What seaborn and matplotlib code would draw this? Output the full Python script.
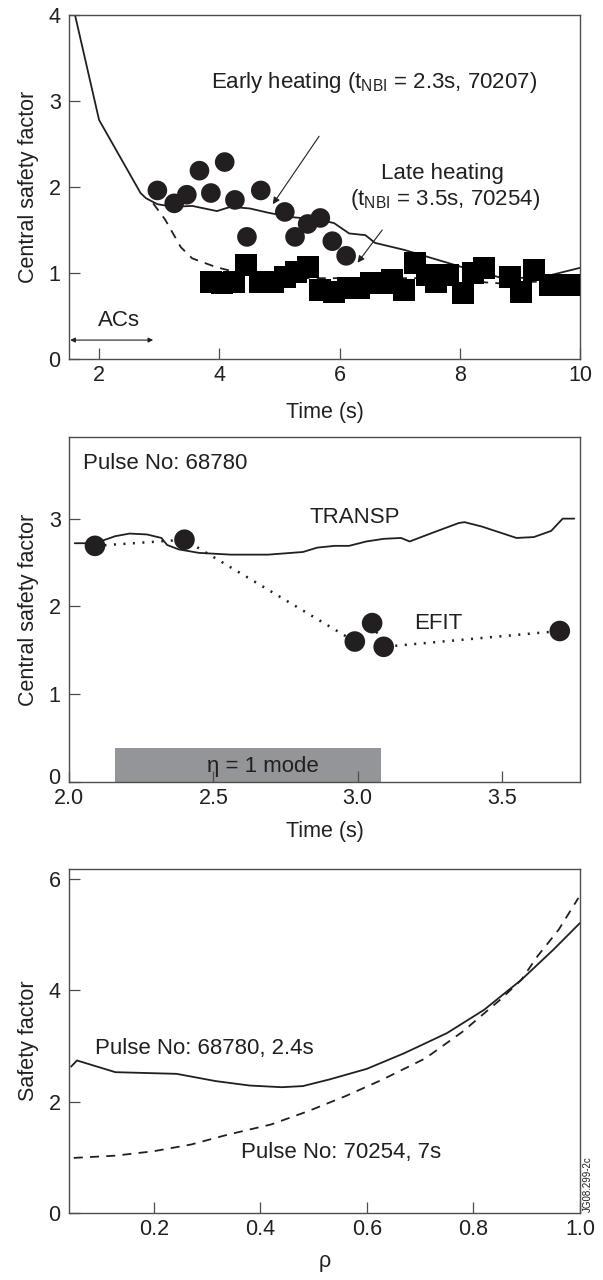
import numpy as np
import pandas as pd
import matplotlib
matplotlib.use("Agg")
import matplotlib.pyplot as plt
import matplotlib.transforms as mtransforms
import seaborn as sns

# ---------------- data ----------------
# Panel 1: early heating (70207) model curve
early_t = [1.6, 2.0, 2.69, 2.78, 2.97, 3.23, 3.55, 3.96, 4.19, 4.51, 4.82, 5.2, 5.66, 5.91,
           6.16, 6.43, 6.59, 7.07, 8.03, 8.66, 9.31, 10.0]
early_q = [4.0, 2.78, 1.93, 1.87, 1.80, 1.77, 1.78, 1.72, 1.77, 1.75, 1.70, 1.65, 1.62, 1.58,
           1.46, 1.44, 1.35, 1.27, 1.07, 0.95, 0.94, 1.06]
# Panel 1: late heating (70254) model curve
late_t = [2.9, 3.1, 3.36, 3.55, 3.94, 4.44, 5.47, 6.43, 7.39, 8.66, 9.31, 9.7, 10.0]
late_q = [1.81, 1.62, 1.30, 1.17, 1.07, 0.98, 0.94, 0.94, 0.94, 0.88, 0.90, 0.86, 0.86]
# Panel 1: measured points
early_pts_t = [2.97, 3.25, 3.46, 3.67, 3.86, 4.09, 4.26, 4.46, 4.69, 5.09, 5.26, 5.47, 5.68, 5.88, 6.11]
early_pts_q = [1.96, 1.81, 1.91, 2.19, 1.93, 2.29, 1.85, 1.42, 1.96, 1.71, 1.42, 1.57, 1.64, 1.37, 1.20]
late_pts_t = [3.86, 4.05, 4.24, 4.44, 4.67, 4.90, 5.09, 5.28, 5.47, 5.68, 5.91, 6.14, 6.33, 6.52,
              6.74, 6.87, 7.07, 7.26, 7.45, 7.60, 7.80, 8.06, 8.22, 8.41, 8.83, 9.02, 9.24, 9.50, 9.81]
late_pts_q = [0.90, 0.88, 0.90, 1.09, 0.90, 0.90, 0.95, 1.01, 1.07, 0.80, 0.78, 0.82, 0.82, 0.88,
              0.88, 0.92, 0.80, 1.12, 0.98, 0.90, 0.98, 0.77, 1.00, 1.06, 0.95, 0.78, 1.03, 0.86, 0.86]

# Panel 2: Pulse 68780
transp_t = [2.02, 2.09, 2.16, 2.21, 2.27, 2.32, 2.34, 2.38, 2.45, 2.56, 2.69, 2.81, 2.86, 2.92,
            2.97, 3.03, 3.09, 3.15, 3.18, 3.26, 3.35, 3.37, 3.43, 3.55, 3.61, 3.67, 3.71, 3.75]
transp_q = [2.72, 2.72, 2.80, 2.83, 2.82, 2.78, 2.70, 2.65, 2.61, 2.59, 2.59, 2.62, 2.67, 2.69,
            2.69, 2.74, 2.77, 2.78, 2.74, 2.84, 2.95, 2.96, 2.91, 2.78, 2.79, 2.86, 3.00, 3.00]
efit_t = [2.09, 2.40, 2.99, 3.05, 3.09, 3.70]
efit_q = [2.69, 2.76, 1.60, 1.81, 1.54, 1.72]
mode_span = [2.16, 3.08]
mode_height = 0.39

# Panel 3: q profiles
rho_a = [0.045, 0.056, 0.128, 0.243, 0.316, 0.38, 0.44, 0.48, 0.53, 0.60, 0.67, 0.75, 0.82,
         0.89, 0.95, 1.0]
q_a = [2.63, 2.74, 2.53, 2.50, 2.37, 2.29, 2.26, 2.28, 2.40, 2.59, 2.87, 3.23, 3.65, 4.19, 4.73, 5.21]
rho_b = [0.05, 0.128, 0.2, 0.27, 0.34, 0.42, 0.49, 0.56, 0.63, 0.71, 0.78, 0.85, 0.89, 0.92, 0.96, 0.997]
q_b = [0.99, 1.03, 1.11, 1.23, 1.41, 1.59, 1.83, 2.10, 2.40, 2.78, 3.26, 3.83, 4.19, 4.61, 5.09, 5.66]

# ---------------- style ----------------
sns.set_theme(style="ticks")
plt.rcParams["font.family"] = ["Liberation Sans", "DejaVu Sans"]
plt.rcParams["mathtext.fontset"] = "custom"
plt.rcParams["mathtext.rm"] = "Liberation Sans"
plt.rcParams["mathtext.it"] = "Liberation Sans"
plt.rcParams["mathtext.bf"] = "Liberation Sans"

INK = "#231f20"
FS = 15.5
AFS = 16

fig = plt.figure(figsize=(6.03, 12.8), dpi=100)
L, W = 69 / 603, (580 - 69) / 603


def box(top, bottom):
    return [L, 1 - bottom / 1280, W, (bottom - top) / 1280]


def style_ax(ax):
    for s in ax.spines.values():
        s.set_visible(True)
        s.set_color("#4d4d4d")
        s.set_linewidth(1.0)
    ax.tick_params(direction="in", length=8, width=0.9, color="#4d4d4d",
                   labelsize=FS, top=False, right=False)
    ax.tick_params(axis="x", pad=4)
    ax.tick_params(axis="y", pad=6)
    for lab in ax.get_xticklabels() + ax.get_yticklabels():
        lab.set_color(INK)


# ---------------- panel 1 ----------------
ax1 = fig.add_axes(box(15, 359))
sns.lineplot(x=early_t, y=early_q, ax=ax1, color=INK, lw=1.3, estimator=None, sort=False)
sns.lineplot(x=late_t, y=late_q, ax=ax1, color=INK, lw=1.3, estimator=None, sort=False,
             linestyle=(0, (5, 4)))
sns.scatterplot(x=early_pts_t, y=early_pts_q, ax=ax1, color=INK, s=200, marker="o",
                edgecolor="none", zorder=3)
sns.scatterplot(x=late_pts_t, y=late_pts_q, ax=ax1, color="black", s=250, marker="s",
                edgecolor="none", zorder=3)
ax1.set_xlim(1.5, 10)
ax1.set_ylim(0, 4)
ax1.set_xticks([2, 4, 6, 8, 10])
ax1.set_yticks([0, 1, 2, 3, 4])
ax1.set_xlabel("Time (s)", fontsize=FS, color=INK, labelpad=12)
ax1.set_ylabel("Central safety factor", fontsize=FS, color=INK, labelpad=7)
arrow = dict(arrowstyle="-|>", lw=0.8, color=INK, mutation_scale=10, shrinkA=0, shrinkB=0)
ax1.text(6.58, 3.21, r"Early heating (t$_{\mathrm{NBI}}$ = 2.3s, 70207)", fontsize=AFS,
         color=INK, ha="center", va="center")
ax1.annotate("", xy=(4.89, 1.80), xytext=(5.66, 2.59), arrowprops=arrow)
ax1.text(7.71, 2.16, "Late heating", fontsize=AFS, color=INK, ha="center", va="center")
ax1.text(7.75, 1.85, r"(t$_{\mathrm{NBI}}$ = 3.5s, 70254)", fontsize=AFS, color=INK,
         ha="center", va="center")
ax1.annotate("", xy=(6.30, 1.12), xytext=(6.71, 1.50), arrowprops=arrow)
ax1.text(2.33, 0.45, "ACs", fontsize=AFS, color=INK, ha="center", va="center")
ax1.annotate("", xy=(1.52, 0.22), xytext=(2.9, 0.22),
             arrowprops=dict(arrowstyle="<|-|>", lw=0.8, color=INK, mutation_scale=7,
                             shrinkA=0, shrinkB=0))
style_ax(ax1)

# ---------------- panel 2 ----------------
ax2 = fig.add_axes(box(437, 782))
ax2.axvspan(mode_span[0], mode_span[1], ymin=0, ymax=mode_height / 3.93,
            color="#939598", lw=0, zorder=0)
sns.lineplot(x=transp_t, y=transp_q, ax=ax2, color=INK, lw=1.3, estimator=None, sort=False)
sns.lineplot(x=efit_t, y=efit_q, ax=ax2, color=INK, lw=1.8, estimator=None, sort=False,
             linestyle=(0, (0.8, 3)))
sns.scatterplot(x=efit_t, y=efit_q, ax=ax2, color=INK, s=220, marker="o",
                edgecolor="none", zorder=3)
ax2.set_xlim(2.0, 3.77)
ax2.set_ylim(0, 3.93)
ax2.set_xticks([2.0, 2.5, 3.0, 3.5])
ax2.set_xticklabels(["2.0", "2.5", "3.0", "3.5"])
ax2.set_yticks([0, 1, 2, 3])
ax2.set_xlabel("Time (s)", fontsize=FS, color=INK, labelpad=9)
ax2.set_ylabel("Central safety factor", fontsize=FS, color=INK, labelpad=7)
ax2.text(2.047, 3.63, "Pulse No: 68780", fontsize=AFS, color=INK, ha="left", va="center")
ax2.text(2.99, 3.01, "TRANSP", fontsize=AFS, color=INK, ha="center", va="center")
ax2.text(3.28, 1.81, "EFIT", fontsize=AFS, color=INK, ha="center", va="center")
ax2.text(2.67, 0.18, "η = 1 mode", fontsize=AFS, color=INK, ha="center", va="center")
style_ax(ax2)
# nudge the "0" label up slightly so it clears the "2.0" label, as in the reference
lift = mtransforms.ScaledTranslation(0, 4 / 72, fig.dpi_scale_trans)
for lab in ax2.get_yticklabels():
    if lab.get_text() == "0":
        lab.set_transform(lab.get_transform() + lift)

# ---------------- panel 3 ----------------
ax3 = fig.add_axes(box(869, 1213))
sns.lineplot(x=rho_a, y=q_a, ax=ax3, color=INK, lw=1.3, estimator=None, sort=False)
sns.lineplot(x=rho_b, y=q_b, ax=ax3, color=INK, lw=1.3, estimator=None, sort=False,
             linestyle=(0, (5, 4)))
ax3.set_xlim(0.041, 1.0)
ax3.set_ylim(0, 6.18)
ax3.set_xticks([0.2, 0.4, 0.6, 0.8, 1.0])
ax3.set_xticklabels(["0.2", "0.4", "0.6", "0.8", "1.0"])
ax3.set_yticks([0, 2, 4, 6])
ax3.set_xlabel("ρ", fontsize=FS, color=INK, labelpad=8)
ax3.set_ylabel("Safety factor", fontsize=FS, color=INK, labelpad=7)
ax3.text(0.09, 2.96, "Pulse No: 68780, 2.4s", fontsize=AFS, color=INK, ha="left", va="center")
ax3.text(0.364, 1.08, "Pulse No: 70254, 7s", fontsize=AFS, color=INK, ha="left", va="center")
style_ax(ax3)

fig.text(583 / 603, 1 - 1212 / 1280, "JG08.299-2c", rotation=90, fontsize=7, color=INK,
         ha="left", va="bottom")

fig.savefig("out.png", dpi=100, facecolor="white")
